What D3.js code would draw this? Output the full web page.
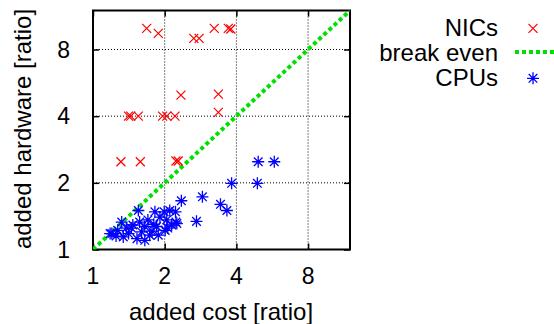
<!DOCTYPE html>
<html>
<head>
<meta charset="utf-8">
<script src="https://cdn.jsdelivr.net/npm/d3@7"></script>
<style>
  body { margin: 0; background: #fff; }
  text { font-family: "Liberation Sans", Arial, sans-serif; fill: #000; }
</style>
</head>
<body>
<svg id="chart" width="554" height="324"></svg>
<script>
// ratios (added cost, added hardware)
const nics = [
  [1.68, 9.96], [1.88, 9.46], [2.65, 8.98], [2.79, 8.98], [3.23, 9.96],
  [3.70, 9.96], [3.79, 9.90], [2.34, 4.98], [3.36, 5.03], [3.36, 4.16],
  [1.41, 4.0], [1.44, 4.0], [1.55, 4.0], [1.96, 4.0], [2.04, 4.0],
  [2.21, 4.0], [1.31, 2.49], [1.58, 2.49], [2.23, 2.51], [2.28, 2.51]
];
const cpus = [
  [4.94, 2.49], [5.77, 2.49], [3.82, 1.99], [4.90, 1.99], [2.88, 1.73],
  [3.43, 1.60], [3.65, 1.50], [2.35, 1.66], [2.72, 1.34], [2.23, 1.33],
  [2.22, 1.48], [2.10, 1.50], [1.99, 1.48], [1.82, 1.48], [1.55, 1.50],
  [1.32, 1.33], [1.20, 1.18], [1.53, 1.12], [1.45, 1.25], [1.65, 1.27],
  [1.85, 1.27], [2.01, 1.22], [1.88, 1.16], [1.41, 1.18], [1.34, 1.14],
  [1.18, 1.18], [1.60, 1.20], [2.04, 1.36], [2.14, 1.29], [1.25, 1.15],
  [1.27, 1.22], [1.38, 1.25], [1.47, 1.29], [1.57, 1.33], [1.70, 1.36],
  [1.73, 1.16], [1.65, 1.10], [1.91, 1.40], [2.06, 1.25], [1.77, 1.21],
  [2.25, 1.31], [1.80, 1.30]
];
const breakEven = [1, 12];
const ticks = [1, 2, 4, 8];
const legendItems = ['NICs', 'break even', 'CPUs'];

const plotL = 93, plotR = 350, plotT = 10.5, plotB = 249.5;
const x = d3.scaleLog().base(2).domain([1, 12]).range([plotL, plotR]);
const y = d3.scaleLog().base(2).domain([1, 12]).range([plotB, plotT]);

const svg = d3.select('#chart');

// grid
const grid = svg.append('g').attr('stroke', '#000').attr('stroke-width', 1).attr('stroke-dasharray', '1,2');
grid.selectAll('line.gx').data(ticks.slice(1)).enter().append('line')
  .attr('x1', (d) => x(d)).attr('x2', (d) => x(d)).attr('y1', plotT).attr('y2', plotB);
grid.selectAll('line.gy').data(ticks.slice(1)).enter().append('line')
  .attr('x1', plotL).attr('x2', plotR).attr('y1', (d) => y(d)).attr('y2', (d) => y(d));

// axes with inward ticks, mirrored
const fmt = (d) => d;
svg.append('g').attr('transform', `translate(0,${plotB})`)
  .call(d3.axisTop(x).tickValues(ticks).tickSize(6).tickFormat(''));
svg.append('g').attr('transform', `translate(0,${plotT})`)
  .call(d3.axisBottom(x).tickValues(ticks).tickSize(6).tickFormat(''));
svg.append('g').attr('transform', `translate(${plotL},0)`)
  .call(d3.axisRight(y).tickValues(ticks).tickSize(6).tickFormat(''));
svg.append('g').attr('transform', `translate(${plotR},0)`)
  .call(d3.axisLeft(y).tickValues(ticks).tickSize(6).tickFormat(''));
svg.selectAll('.domain').remove();
svg.selectAll('.tick line').attr('stroke', '#000').attr('stroke-width', 1.5);

// tick labels
svg.append('g').selectAll('text').data(ticks).enter().append('text')
  .attr('x', (d) => x(d)).attr('y', 283.5).attr('text-anchor', 'middle')
  .style('font-size', '23px').text(fmt);
svg.append('g').selectAll('text').data(ticks).enter().append('text')
  .attr('x', 70).attr('y', (d) => y(d) + 8.3).attr('text-anchor', 'end')
  .style('font-size', '23px').text(fmt);

// border
svg.append('rect').attr('x', plotL).attr('y', plotT).attr('width', plotR - plotL).attr('height', plotB - plotT)
  .attr('fill', 'none').attr('stroke', '#000').attr('stroke-width', 2);

// axis titles
svg.append('text').attr('x', 221).attr('y', 320).attr('text-anchor', 'middle')
  .style('font-size', '24px').text('added cost [ratio]');
svg.append('text').attr('transform', 'translate(31,129) rotate(-90)').attr('text-anchor', 'middle')
  .style('font-size', '24px').text('added hardware [ratio]');

// markers
const crossPath = (s) => `M${-s},${-s}L${s},${s}M${-s},${s}L${s},${-s}`;
const starPath = (s) => {
  const t = s * 0.72;
  return `M${-s},0L${s},0M0,${-s}L0,${s}M${-t},${-t}L${t},${t}M${-t},${t}L${t},${-t}`;
};

// break even line
const clip = svg.append('clipPath').attr('id', 'plotclip');
clip.append('rect').attr('x', plotL).attr('y', plotT).attr('width', plotR - plotL).attr('height', plotB - plotT);
svg.append('line')
  .attr('clip-path', 'url(#plotclip)')
  .attr('x1', x(breakEven[0])).attr('y1', y(breakEven[0]))
  .attr('x2', x(breakEven[1])).attr('y2', y(breakEven[1]))
  .attr('stroke', '#00e000').attr('stroke-width', 4).attr('stroke-dasharray', '4,3');

svg.append('g').selectAll('path').data(cpus).enter().append('path')
  .attr('transform', (d) => `translate(${x(d[0])},${y(d[1])})`)
  .attr('d', starPath(6)).attr('stroke', '#0000ff').attr('stroke-width', 1.3).attr('fill', 'none');

svg.append('g').selectAll('path').data(nics).enter().append('path')
  .attr('transform', (d) => `translate(${x(d[0])},${y(d[1])})`)
  .attr('d', crossPath(4.5)).attr('stroke', '#ff0000').attr('stroke-width', 1.2).attr('fill', 'none');

// legend
const legend = svg.append('g');
legend.selectAll('text').data(legendItems).enter().append('text')
  .attr('x', 498).attr('y', (d, i) => 36 + i * 25).attr('text-anchor', 'end')
  .style('font-size', '24px').text((d) => d);
legend.append('path').attr('transform', 'translate(533,28.3)').attr('d', crossPath(4.5))
  .attr('stroke', '#ff0000').attr('stroke-width', 1.2).attr('fill', 'none');
legend.append('line').attr('x1', 515).attr('x2', 555).attr('y1', 52).attr('y2', 52)
  .attr('stroke', '#00e000').attr('stroke-width', 4).attr('stroke-dasharray', '4,3');
legend.append('path').attr('transform', 'translate(533,78.3)').attr('d', starPath(6))
  .attr('stroke', '#0000ff').attr('stroke-width', 1.3).attr('fill', 'none');
</script>
</body>
</html>
